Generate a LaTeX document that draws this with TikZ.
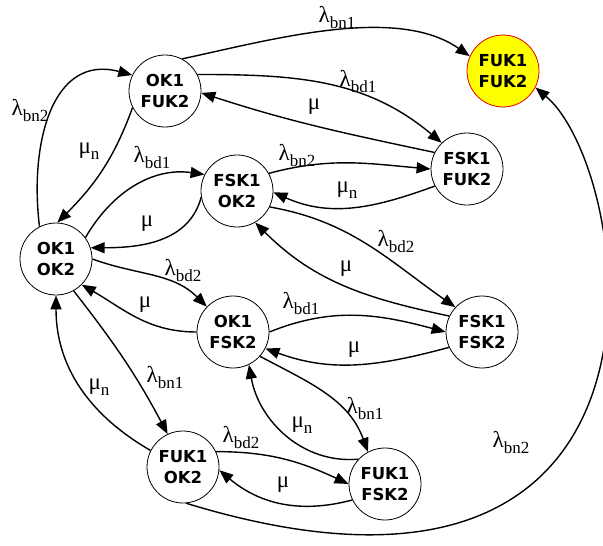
\documentclass[tikz,border=0pt]{standalone}
\usepackage{fontspec}
\setmainfont{Liberation Serif}
\newfontfamily\statefont{DejaVu Sans}
\usetikzlibrary{arrows.meta}
\definecolor{state_yellow}{RGB}{255, 255, 0}
\definecolor{state_red}{RGB}{230, 0, 0}
\newcommand{\rate}[2]{\fontsize{23}{23}\selectfont #1\raisebox{-6pt}{\fontsize{17}{17}\selectfont #2}}

\begin{document}
\begin{tikzpicture}[x=1pt, y=1pt,
    state/.style={circle, draw, line width=0.8pt, minimum size=72pt, inner sep=0pt, align=center,
      font=\statefont\bfseries\fontsize{16.5}{20.5}\selectfont},
    trans/.style={line width=1.4pt, -{Triangle[length=14pt,width=11pt]}},
    rate/.style={inner sep=0pt}]

    \useasboundingbox (0,0) rectangle (603,-546);

    % States
    \node[state] (ok1fuk2) at (165,-91) {OK1\\FUK2};
    \node[state, fill=state_yellow, draw=state_red] (fuk1fuk2) at (503,-71) {FUK1\\FUK2};
    \node[state] (fsk1fuk2) at (467,-169) {FSK1\\FUK2};
    \node[state] (fsk1ok2) at (237,-191) {FSK1\\OK2};
    \node[state] (ok1ok2) at (56,-259) {OK1\\OK2};
    \node[state] (ok1fsk2) at (233,-332) {OK1\\FSK2};
    \node[state] (fsk1fsk2) at (482,-332) {FSK1\\FSK2};
    \node[state] (fuk1ok2) at (183,-467) {FUK1\\OK2};
    \node[state] (fuk1fsk2) at (385,-484) {FUK1\\FSK2};

    % Transitions from the top states
    \draw[trans] (ok1fuk2.62) to[out=12, in=145, looseness=0.8] (fuk1fuk2.156);
    \draw[trans] (ok1fuk2.27) to[out=0, in=140] (fsk1fuk2.134);
    \draw[trans] (fsk1fuk2.153) to[out=168, in=-18] (ok1fuk2.-3);
    \draw[trans] (ok1ok2.117) to[out=97, in=165, looseness=1.2] (ok1fuk2.154);
    \draw[trans] (ok1fuk2.207) to[out=250, in=45] (ok1ok2.88);

    % Middle row
    \draw[trans] (ok1ok2.36) to[out=60, in=172] (fsk1ok2.153);
    \draw[trans] (fsk1ok2.190) to[out=255, in=0] (ok1ok2.18);
    \draw[trans] (fsk1ok2.29) to[out=15, in=175] (fsk1fuk2.180);
    \draw[trans] (fsk1fuk2.208) to[out=200, in=-24] (fsk1ok2.-2);
    \draw[trans] (fsk1ok2.-26) to[out=-10, in=145] (fsk1fsk2.137);
    \draw[trans] (fsk1fsk2.154) to[out=168, in=-45] (fsk1ok2.-60);
    \draw[trans] (ok1ok2.0) to[out=-20, in=135] (ok1fsk2.136);
    \draw[trans] (ok1fsk2.180) to[out=180, in=-30] (ok1ok2.-45);
    \draw[trans] (ok1fsk2.0) to[out=22, in=165] (fsk1fsk2.180);
    \draw[trans] (fsk1fsk2.205) to[out=195, in=-20] (ok1fsk2.-27);

    % Bottom row
    \draw[trans] (ok1ok2.-61) to[out=-52, in=118] (fuk1ok2.115);
    \draw[trans] (fuk1ok2.153) to[out=150, in=-90] (ok1ok2.-90);
    \draw[trans] (fuk1ok2.25) to[out=0, in=155] (fuk1fsk2.180);
    \draw[trans] (fuk1fsk2.206) to[out=195, in=-40] (fuk1ok2.-5);
    \draw[trans] (ok1fsk2.-42) to[out=-28, in=110] (fuk1fsk2.118);
    \draw[trans] (fuk1fsk2.137) to[out=185, in=-80] (ok1fsk2.-64);
    \draw[trans] (fuk1ok2.-85) to[out=-17, in=-40, out distance=545pt, in distance=129pt] (fuk1fuk2.-27);

    % Rates
    \foreach \n/\pos/\txt in {
        1/{337,-17}/{\rate{λ}{bn1}}, 2/{358,-81}/{\rate{λ}{bd1}}, 3/{314,-107}/{\rate{μ}{}},
        4/{30,-110}/{\rate{λ}{bn2}}, 5/{89,-151}/{\rate{μ}{n}}, 6/{152,-157}/{\rate{λ}{bd1}},
        7/{147,-224}/{\rate{μ}{}}, 8/{297,-155}/{\rate{λ}{bn2}}, 9/{347,-190}/{\rate{μ}{n}},
        10/{396,-241}/{\rate{λ}{bd2}}, 11/{346,-269}/{\rate{μ}{}}, 12/{183,-270}/{\rate{λ}{bd2}},
        13/{145,-305}/{\rate{μ}{}}, 14/{301,-303}/{\rate{λ}{bd1}}, 15/{354,-350}/{\rate{μ}{}},
        16/{165,-377}/{\rate{λ}{bn1}}, 17/{99,-387}/{\rate{μ}{n}}, 18/{241,-437}/{\rate{λ}{bd2}},
        19/{283,-485}/{\rate{μ}{}}, 20/{365,-408}/{\rate{λ}{bn1}}, 21/{302,-425}/{\rate{μ}{n}},
        22/{511,-442}/{\rate{λ}{bn2}}} {
      \node[rate] (r\n) at (\pos) {\txt};
    }

  \end{tikzpicture}
\end{document}
